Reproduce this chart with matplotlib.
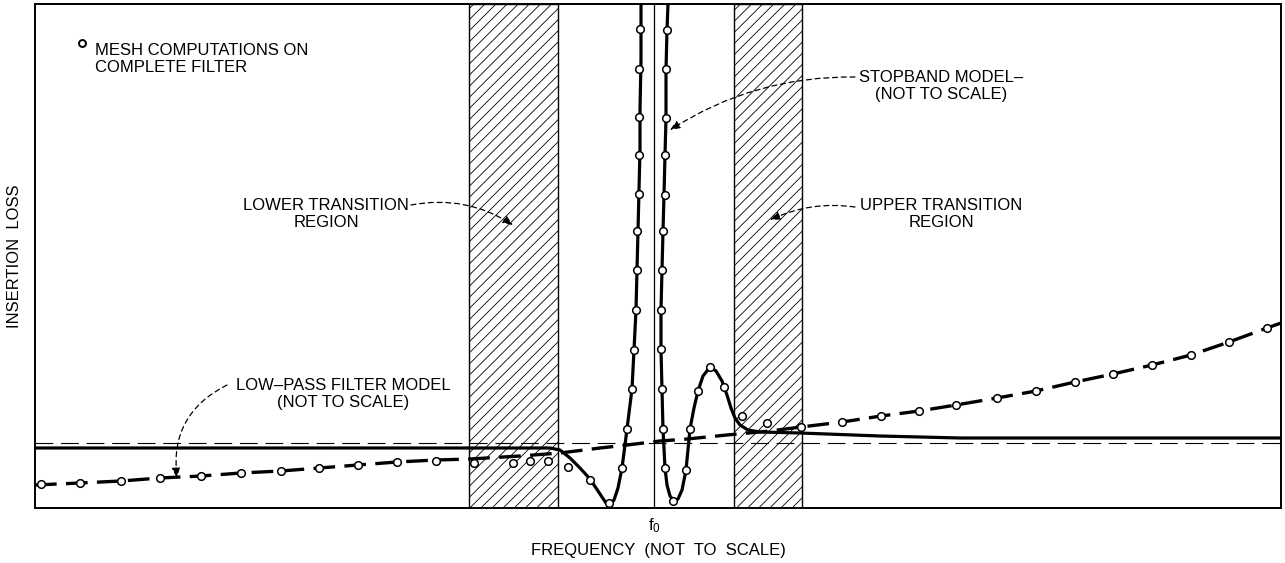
import matplotlib
matplotlib.use("Agg")
import matplotlib.pyplot as plt
from matplotlib.patches import Rectangle

plt.rcParams['font.family'] = ['Liberation Sans', 'DejaVu Sans']
plt.rcParams['hatch.linewidth'] = 0.6

# frequency and insertion loss, arbitrary units (not to scale)
f0 = 619
asymptote_loss = 65
lower_transition = (434, 523)
upper_transition = (699, 767)

# stopband model (solid), two branches around f0
stop_left_f = [0, 515, 525, 535, 545, 555, 565, 571, 575, 579, 583, 587, 590, 592, 595, 597,
               599, 601, 602, 603, 604, 605, 605, 606, 606]
stop_left_loss = [60, 60, 58, 50, 40, 29, 14, 5, 3, 8, 20, 40, 63, 79, 103, 119,
                  158, 198, 238, 277, 318, 358, 398, 448, 504]
stop_right_f = [633, 632, 631, 631, 630, 629, 628, 627, 626, 626, 627, 628, 630, 632, 635, 639,
                643, 647, 651, 655, 659, 663, 668, 675, 681, 687, 692, 696, 700, 705, 713,
                725, 765, 845, 925, 1246]
stop_right_loss = [504, 478, 438, 390, 353, 313, 277, 238, 198, 158, 118, 79, 40, 23, 12, 7,
                   9, 18, 38, 79, 100, 117, 132, 141, 137, 127, 113, 100, 90, 83, 78,
                   76, 75, 72, 70, 70]

# low-pass filter model (dashed)
lowpass_f = [0, 45, 86, 125, 166, 206, 246, 284, 323, 362, 401, 435, 485, 525, 565, 592,
             625, 652, 692, 735, 766, 807, 846, 884, 921, 962, 1001, 1040, 1078, 1117,
             1156, 1194, 1232, 1246]
lowpass_loss = [23, 25, 27, 30, 32, 35, 37, 40, 43, 46, 48, 49, 52, 55, 60, 63,
                67, 69, 73, 77, 81, 86, 92, 97, 103, 110, 117, 126, 134, 143,
                153, 166, 180, 185]

# mesh computations on complete filter (open circles)
mesh_f = [6, 45, 86, 125, 166, 206, 246, 284, 323, 362, 401, 439, 478, 495, 513,
          533, 555, 574, 587, 592, 597, 599, 601, 602, 602, 604, 604, 604, 604, 605,
          632, 631, 631, 630, 630, 628, 627, 626, 626, 627, 628, 630, 638, 651, 655,
          663, 675, 689, 707, 732, 766, 807, 846, 884, 921, 962, 1001, 1040, 1078,
          1117, 1156, 1194, 1232]
mesh_loss = [24, 25, 27, 30, 32, 35, 37, 40, 43, 46, 47, 45, 45, 47, 47,
             41, 28, 5, 40, 79, 119, 158, 198, 238, 277, 314, 353, 391, 439, 479,
             478, 439, 390, 353, 313, 277, 238, 198, 159, 119, 79, 40, 7, 38, 79,
             117, 141, 121, 92, 85, 81, 86, 92, 97, 103, 110, 117, 126, 134,
             143, 153, 166, 180]

fig = plt.figure(figsize=(12.85, 5.63), dpi=100)
ax = fig.add_axes([35 / 1285, 55 / 563, 1246 / 1285, 504 / 563])
ax.set_xlim(0, 1246)
ax.set_ylim(0, 504)
ax.set_xticks([])
ax.set_yticks([])
for s in ax.spines.values():
    s.set_linewidth(1.4)

# transition regions
for lo, hi in (lower_transition, upper_transition):
    ax.add_patch(Rectangle((lo, 0), hi - lo, 504, facecolor='white', edgecolor='black',
                           hatch='///', lw=1.0, zorder=1))

ax.axvline(f0, color='black', lw=0.9, zorder=2)
ax.axhline(asymptote_loss, color='black', lw=0.8, dashes=(16, 7), zorder=2)

ax.plot(stop_left_f, stop_left_loss, color='black', lw=2.3, zorder=3)
ax.plot(stop_right_f, stop_right_loss, color='black', lw=2.3, zorder=3)
ax.plot(lowpass_f, lowpass_loss, color='black', lw=2.4, dashes=(6.5, 2.8), zorder=3)
ax.plot(mesh_f, mesh_loss, 'o', ms=5.5, mfc='white', mec='black', mew=1.1, zorder=4)

fs = 12
# legend key
ax.plot([47], [465], 'o', ms=5, mfc='white', mec='black', mew=1.4, clip_on=False)
ax.text(60, 465, 'MESH COMPUTATIONS ON\nCOMPLETE FILTER', fontsize=fs, ha='left', va='top',
        linespacing=1.2)

ax.text(291, 294, 'LOWER TRANSITION\nREGION', fontsize=fs, ha='center', va='center',
        multialignment='center', linespacing=1.2)
ax.text(906, 294, 'UPPER TRANSITION\nREGION', fontsize=fs, ha='center', va='center',
        multialignment='center', linespacing=1.2)
ax.text(906, 422, 'STOPBAND MODEL–\n(NOT TO SCALE)', fontsize=fs, ha='center', va='center',
        multialignment='center', linespacing=1.2)
ax.text(308, 114, 'LOW–PASS FILTER MODEL\n(NOT TO SCALE)', fontsize=fs, ha='center',
        va='center', multialignment='center', linespacing=1.2)

arrow = dict(arrowstyle='-|>,head_length=0.6,head_width=0.25', color='black', lw=0.9,
             linestyle=(0, (4, 3)), shrinkA=0, shrinkB=0)
ax.annotate('', xy=(478, 283), xytext=(376, 303),
            arrowprops=dict(arrow, connectionstyle='arc3,rad=-0.2'))
ax.annotate('', xy=(635, 378), xytext=(820, 431),
            arrowprops=dict(arrow, connectionstyle='arc3,rad=0.15'))
ax.annotate('', xy=(735, 288), xytext=(820, 301),
            arrowprops=dict(arrow, connectionstyle='arc3,rad=0.15'))
ax.annotate('', xy=(142, 30), xytext=(192, 123),
            arrowprops=dict(arrow, connectionstyle='arc3,rad=0.35'))

ax.text(f0, -8, '$\\mathregular{f_0}$', fontsize=fs, ha='center', va='top')
ax.set_xlabel('FREQUENCY  (NOT  TO  SCALE)', fontsize=fs, labelpad=25)
ax.set_ylabel('INSERTION  LOSS', fontsize=fs, labelpad=9)

fig.savefig('out.png', dpi=100)
